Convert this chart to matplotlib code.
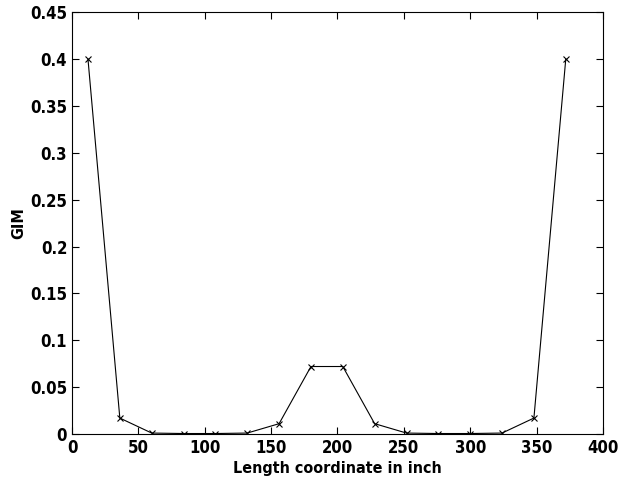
import matplotlib
matplotlib.use('Agg')
import matplotlib.pyplot as plt

# GIM along the length coordinate
x_inch = [12, 36, 60, 84, 108, 132, 156, 180, 204, 228, 252, 276, 300, 324, 348, 372]
gim = [0.4, 0.017, 0.001, 0.0005, 0.0005, 0.001, 0.011, 0.072,
       0.072, 0.011, 0.001, 0.0005, 0.0005, 0.001, 0.017, 0.4]

x_ticks = [0, 50, 100, 150, 200, 250, 300, 350, 400]
y_ticks = [0, 0.05, 0.1, 0.15, 0.2, 0.25, 0.3, 0.35, 0.4, 0.45]

plt.rcParams['font.family'] = ['DejaVu Sans']
plt.rcParams['font.stretch'] = 'condensed'

fig = plt.figure(figsize=(6.32, 4.82), dpi=100)
ax = fig.add_axes([0.114, 0.0996, 0.840, 0.875])

ax.plot(x_inch, gim, color='black', linewidth=0.8, marker='x',
        markersize=4, markeredgewidth=0.8)

ax.set_xlim(0, 400)
ax.set_ylim(0, 0.45)
ax.set_xticks(x_ticks)
ax.set_yticks(y_ticks)
ax.set_xticklabels([str(t) for t in x_ticks])
ax.set_yticklabels(['0', '0.05', '0.1', '0.15', '0.2', '0.25', '0.3', '0.35', '0.4', '0.45'])
ax.tick_params(direction='in', top=True, right=True, length=5, width=0.8,
               labelsize=12)
for lbl in ax.get_xticklabels() + ax.get_yticklabels():
    lbl.set_fontweight('bold')
    lbl.set_fontstretch('condensed')
for s in ax.spines.values():
    s.set_linewidth(0.8)

ax.set_xlabel('Length coordinate in inch', fontsize=11.5, fontweight='bold',
              fontstretch='condensed', labelpad=3)
ax.set_ylabel('GIM', fontsize=11.5, fontweight='bold', fontstretch='condensed',
              labelpad=3)

fig.savefig('out.png', dpi=100)
